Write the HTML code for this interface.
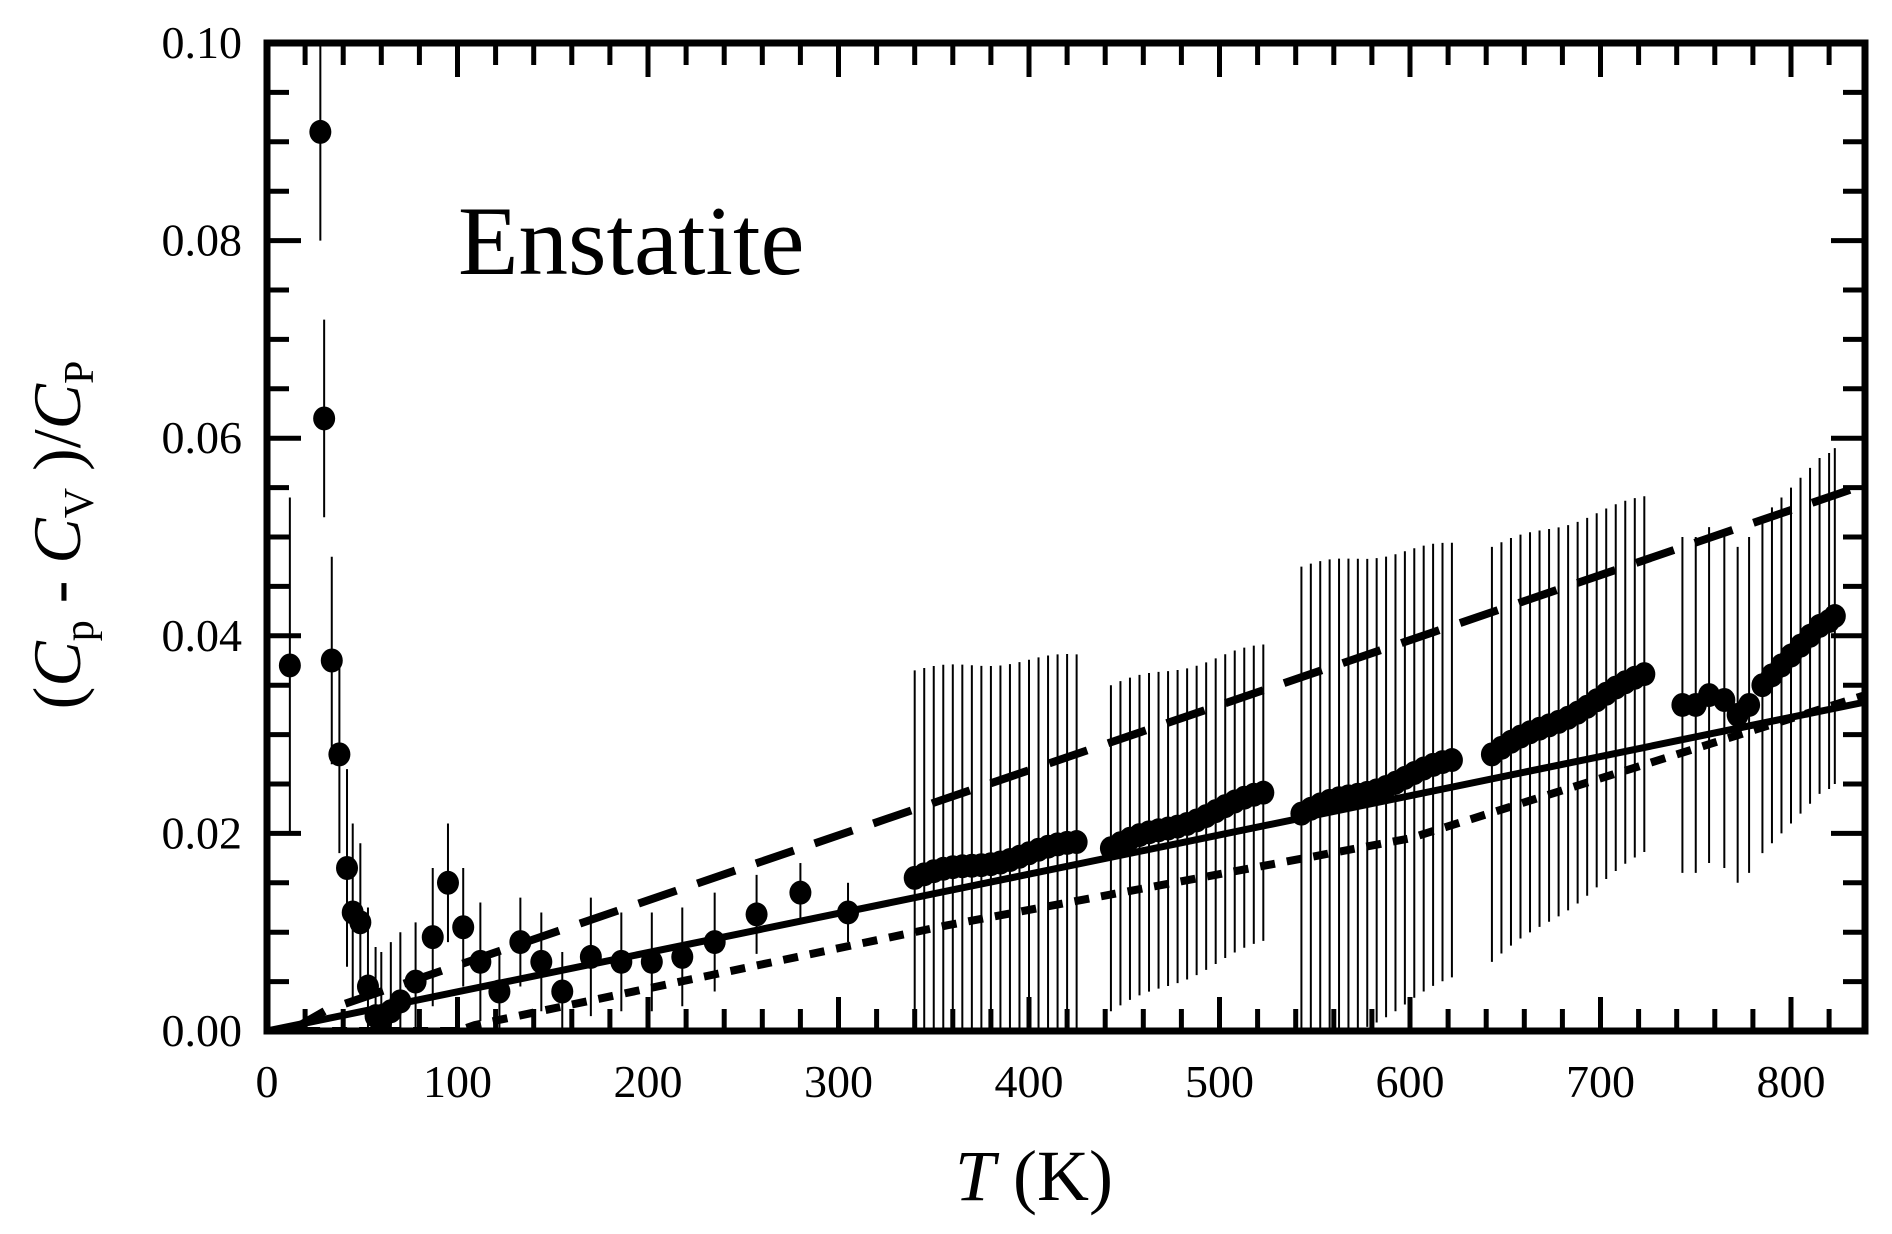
<!DOCTYPE html>
<html><head><meta charset="utf-8"><style>html,body{margin:0;padding:0;background:#fff}svg{display:block}text{font-family:"Liberation Serif",serif;fill:#000}</style></head>
<body>
<svg id="s" width="1892" height="1234" viewBox="0 0 1892 1234" xmlns="http://www.w3.org/2000/svg">
<g id="g"></g>
<text x="458" y="274" font-size="99">Enstatite</text>
<text x="1034" y="1200" font-size="72" text-anchor="middle"><tspan font-style="italic">T</tspan> (K)</text>
<text transform="translate(80,535) rotate(-90)" font-size="68" text-anchor="middle">(<tspan font-style="italic">C</tspan><tspan font-size="42" dy="13">p</tspan><tspan dy="-13"> - </tspan><tspan font-style="italic">C</tspan><tspan font-size="42" dy="13">V</tspan><tspan dy="-13"> )/</tspan><tspan font-style="italic">C</tspan><tspan font-size="42" dy="13">P</tspan></text>
</svg>
<script>
var L=267,R=1865,T=43,B=1031,kx=1.905,ky=9880;
function X(t){return L+t*kx}function Y(v){return B-v*ky}
var h='';
function line(x1,y1,x2,y2,w,extra){h+='<line x1="'+x1+'" y1="'+y1+'" x2="'+x2+'" y2="'+y2+'" stroke="#000" stroke-width="'+w+'" '+(extra||'')+'/>';}
for(var t=0;t<=839;t+=20){var M=t%100==0,len=M?34:22;var x=X(t);if(t>0){line(x,B,x,B-len,5);line(x,T,x,T+len,5);}}
for(var i=0;i<=20;i++){var v=i*0.005,M=i%4==0,len=M?34:22,y=Y(v);line(L,y,L+len,y,5);line(R,y,R-len,y,5);}
for(var t=0;t<=800;t+=100)h+='<text x="'+X(t)+'" y="1097" font-size="46" text-anchor="middle">'+t+'</text>';
for(var i=0;i<=5;i++)h+='<text x="242" y="'+(Y(i*0.02)+15)+'" font-size="46" text-anchor="end">'+(i*0.02).toFixed(2)+'</text>';
h+='<clipPath id="c"><rect x="'+L+'" y="'+T+'" width="'+(R-L)+'" height="'+(B-T)+'"/></clipPath><g clip-path="url(#c)">';
function pl(pts,w,dash){var s=pts.map(function(p){return X(p[0])+','+Y(p[1])}).join(' ');h+='<polyline points="'+s+'" fill="none" stroke="#000" stroke-width="'+w+'" '+(dash?'stroke-dasharray="'+dash+'"':'')+'/>';}
pl([[0,0],[839,0.0333]],7);
pl([[12,0],[31,0.0021],[350,0.0231],[839,0.0553]],8,'40,22');
pl([[20,0],[100,0],[109,0.0006],[357,0.0107],[600,0.0195],[839,0.034]],8,'15,12');
var pts=[[12,.037,.017],[28,.091,.011],[30,.062,.010],[34,.0375,.0105],[38,.028,.01],[42,.0165,.01],[45,.012,.009],[49,.011,.008],[53,.0045,.008],[57,.0015,.007],[60,.001,.007],[65,.002,.007],[70,.003,.007],[78,.005,.006],[87,.0095,.007],[95,.015,.006],[103,.0105,.006],[112,.007,.006],[122,.004,.004],[133,.009,.0045],[144,.007,.005],[155,.004,.004],[170,.0075,.006],[186,.007,.005],[202,.007,.005],[218,.0075,.005],[235,.009,.005],[257,.0118,.004],[280,.014,.003],[305,.012,.003]];
function grp(t0,t1,y0,y1,e0,e1,n){for(var i=0;i<n;i++){var f=i/(n-1);pts.push([t0+(t1-t0)*f,y0+(y1-y0)*f+0.0003*Math.sin(f*9),e0+(e1-e0)*f]);}}
grp(340,425,.0155,.019,.021,.019,18);
grp(443,523,.0185,.024,.0165,.015,17);
grp(543,622,.022,.0273,.025,.022,17);
grp(643,723,.028,.036,.021,.018,17);
var g5=[[743,.033],[750,.033],[757,.034],[765,.0335],[772,.032],[778,.033],[785,.035],[790,.036],[795,.037],[800,.038],[805,.039],[810,.040],[815,.041],[820,.0415],[823,.042]];
g5.forEach(function(p){pts.push([p[0],p[1],.017]);});
pts.forEach(function(p){line(X(p[0]),Y(p[1]-p[2]),X(p[0]),Y(p[1]+p[2]),2);});
pts.forEach(function(p){h+='<ellipse cx="'+X(p[0])+'" cy="'+Y(p[1])+'" rx="11" ry="12" fill="#000"/>';});
h+='</g>';
h+='<rect x="'+L+'" y="'+T+'" width="'+(R-L)+'" height="'+(B-T)+'" fill="none" stroke="#000" stroke-width="7"/>';
document.getElementById('g').innerHTML=h;
</script>
</body></html>
